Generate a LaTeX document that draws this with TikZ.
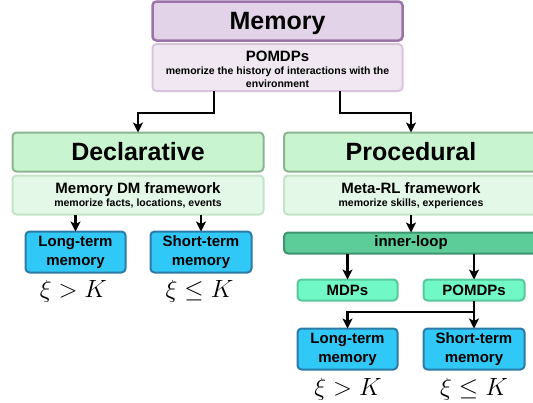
\documentclass[tikz,border=0pt]{standalone}
\usepackage[no-math]{fontspec}
\setmainfont{Liberation Sans}
\usetikzlibrary{arrows.meta,calc}
\definecolor{memBorder}{HTML}{9A74A8}
\definecolor{memFill}{HTML}{E3D3E9}
\definecolor{pomFill}{HTML}{F1E7F3}
\definecolor{pomBorder}{HTML}{D8C4DD}
\definecolor{declFill}{HTML}{C8F5CF}
\definecolor{declBorder}{HTML}{8BB592}
\definecolor{subFill}{HTML}{E3F8E6}
\definecolor{subBorder}{HTML}{C3E4C7}
\definecolor{innerFill}{HTML}{5CCD98}
\definecolor{innerBorder}{HTML}{3F9470}
\definecolor{mdpFill}{HTML}{70F8C6}
\definecolor{mdpBorder}{HTML}{58C79C}
\definecolor{blueFill}{HTML}{30C8F6}
\definecolor{blueBorder}{HTML}{2C7AA6}
\tikzset{
  box/.style={rounded corners=4pt, line width=2pt, inner sep=0pt, outer sep=0pt, align=center},
  membox/.style={box, draw=memBorder, fill=memFill, line width=2.5pt},
  pombox/.style={box, draw=pomBorder, fill=pomFill},
  declbox/.style={box, draw=declBorder, fill=declFill},
  subbox/.style={box, draw=subBorder, fill=subFill},
  innerbox/.style={box, draw=innerBorder, fill=innerFill, font=\fontsize{15}{19}\selectfont\bfseries},
  mdpbox/.style={box, draw=mdpBorder, fill=mdpFill, font=\fontsize{15}{19}\selectfont\bfseries},
  bluebox/.style={box, draw=blueBorder, fill=blueFill, font=\fontsize{15}{19}\selectfont\bfseries},
  bigtxt/.style={anchor=base, inner sep=0pt, font=\fontsize{25}{30}\selectfont\bfseries},
  midtxt/.style={anchor=base, inner sep=0pt, font=\fontsize{15}{18}\selectfont\bfseries},
  smalltxt/.style={anchor=base, inner sep=0pt, font=\fontsize{10.5}{13}\selectfont\bfseries},
  mathtxt/.style={anchor=base, inner sep=0pt, font=\fontsize{25}{30}\selectfont},
  arr/.style={line width=2.2pt, -{Stealth[length=10pt,width=10pt,inset=2.5pt]}},
}
\begin{document}
\begin{tikzpicture}[x=1pt,y=-1pt]
\useasboundingbox (0,0) rectangle (533,402);
\clip (0,0) rectangle (533,402);
% top
\node[membox, minimum width=250pt, minimum height=39pt] (mem) at (277.5,21) {};
\node[pombox, minimum width=250pt, minimum height=47pt] (pom) at (277.5,67.5) {};
\node[bigtxt] (memt) at (277.5,29.3) {Memory};
\node[midtxt] (pomt) at (277.5,61) {POMDPs};
\node[smalltxt] (pomt1) at (277.5,74.5) {memorize the history of interactions with the};
\node[smalltxt] (pomt2) at (277.5,87.5) {environment};
% left
\node[declbox, minimum width=251pt, minimum height=39pt] (decl) at (138,152) {};
\node[subbox, minimum width=251pt, minimum height=39pt] (declsub) at (138,195) {};
\node[bigtxt] (declt) at (138,160) {Declarative};
\node[midtxt] (declt1) at (138,193) {Memory DM framework};
\node[smalltxt] (declt2) at (138,206.5) {memorize facts, locations, events};
\node[bluebox, minimum width=100pt, minimum height=41pt] (lt1) at (75.5,252) {Long-term\\memory};
\node[bluebox, minimum width=101pt, minimum height=41pt] (st1) at (201,252) {Short-term\\memory};
\node[mathtxt] (x1) at (73.5,297) {$\xi > K$};
\node[mathtxt] (x2) at (199.5,297) {$\xi \leq K$};
% right
\node[declbox, minimum width=254pt, minimum height=39pt] (proc) at (411,152) {};
\node[subbox, minimum width=254pt, minimum height=39pt] (procsub) at (411,195) {};
\node[bigtxt] (proct) at (411,160) {Procedural};
\node[midtxt] (proct1) at (411,193) {Meta-RL framework};
\node[smalltxt] (proct2) at (411,206.5) {memorize skills, experiences};
\node[innerbox, minimum width=254pt, minimum height=21pt] (inner) at (411,243) {inner-loop};
\node[mdpbox, minimum width=100pt, minimum height=21pt] (mdp) at (347.5,290) {MDPs};
\node[mdpbox, minimum width=101pt, minimum height=21pt] (pom2) at (474,290) {POMDPs};
\node[bluebox, minimum width=100pt, minimum height=41pt] (lt2) at (347.5,349) {Long-term\\memory};
\node[bluebox, minimum width=101pt, minimum height=41pt] (st2) at (474,349) {Short-term\\memory};
\node[mathtxt] (x3) at (348,395) {$\xi > K$};
\node[mathtxt] (x4) at (474,395) {$\xi \leq K$};
% connectors
\coordinate (j1) at (214,113);
\coordinate (j2) at (340,113);
\coordinate (j3) at (474,312);
\draw[arr] (pom.south -| j1) -- (j1) -| (decl.north);
\draw[arr] (pom.south -| j2) -- (j2) -| (proc.north);
\draw[arr] (declsub.south -| lt1) -- (lt1.north);
\draw[arr] (declsub.south -| st1) -- (st1.north);
\draw[arr] (procsub.south) -- (inner.north);
\draw[arr] (inner.south -| mdp) -- (mdp.north);
\draw[arr] (inner.south -| pom2) -- (pom2.north);
\draw[arr] (pom2.south) -- (st2.north);
\draw[arr] (j3) -| (lt2.north);
\end{tikzpicture}
\end{document}
